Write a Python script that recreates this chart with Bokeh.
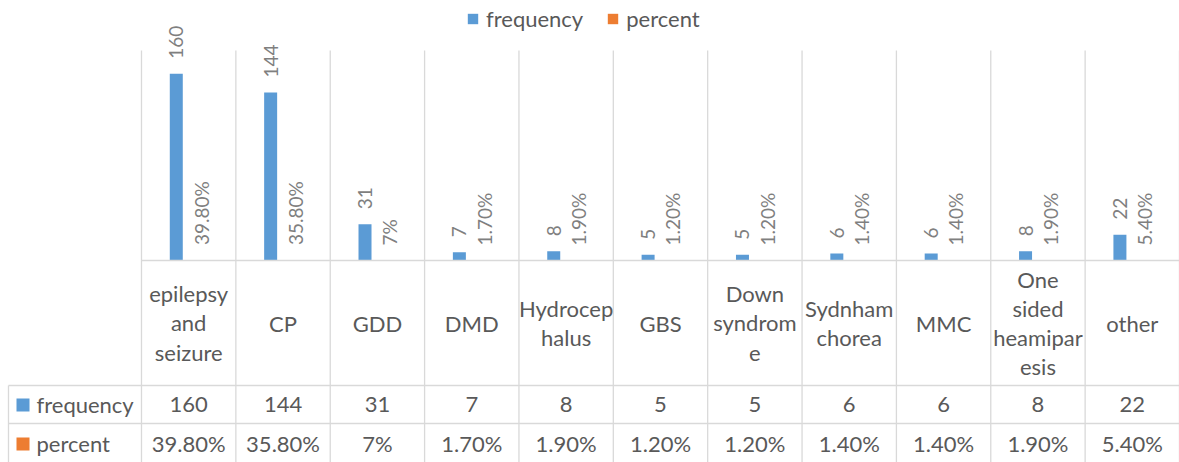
import math

from bokeh.core.properties import value
from bokeh.embed import file_html
from bokeh.models import ColumnDataSource, Legend, LegendItem, Range1d
from bokeh.plotting import figure
from bokeh.resources import INLINE

# ---- data -------------------------------------------------------------
categories = ["epilepsy and seizure", "CP", "GDD", "DMD", "Hydrocephalus", "GBS",
              "Down syndrome", "Sydnham chorea", "MMC", "One sided heamiparesis", "other"]
category_labels = ["epilepsy\nand\nseizure", "CP", "GDD", "DMD", "Hydrocep\nhalus", "GBS",
                   "Down\nsyndrom\ne", "Sydnham\nchorea", "MMC", "One\nsided\nheamipar\nesis", "other"]
frequency = [160, 144, 31, 7, 8, 5, 5, 6, 6, 8, 22]
percent = [0.398, 0.358, 0.07, 0.017, 0.019, 0.012, 0.012, 0.014, 0.014, 0.019, 0.054]
percent_labels = ["39.80%", "35.80%", "7%", "1.70%", "1.90%", "1.20%", "1.20%",
                  "1.40%", "1.40%", "1.90%", "5.40%"]
series_names = ["frequency", "percent"]

# ---- layout / style ---------------------------------------------------
W, H = 1179, 462
PLOT_LEFT = 141          # left edge of the category columns
BASE_Y = 260             # pixel row of the value axis zero line
TOP_Y = 50               # pixel row of the value axis maximum
Y_MAX = 180
COL_W = (W - PLOT_LEFT) / len(categories)
PPU = (BASE_Y - TOP_Y) / Y_MAX

BLUE = "#5B9BD5"
ORANGE = "#ED7D31"
GRID = "#D9D9D9"
TEXT = "#595959"
LABEL = "#7F7F7F"
FONT = value("Lato")
TABLE_SIZE = "22px"
LABEL_SIZE = "19px"


def xd(px):
    return (px - PLOT_LEFT) / COL_W


def yd(py):
    return (BASE_Y - py) / PPU


n = len(categories)
dodge = 12.4 / COL_W
bar_w = 13 / COL_W
centers = [i + 0.5 for i in range(n)]

src = ColumnDataSource(dict(
    x_freq=[c - dodge for c in centers],
    x_pct=[c + dodge for c in centers],
    center=centers,
    frequency=frequency,
    percent=percent,
    freq_text=[str(v) for v in frequency],
    pct_text=percent_labels,
    freq_label_y=[v + 15 / PPU for v in frequency],
    pct_label_y=[v + 15 / PPU for v in percent],
    cat_text=category_labels,
))

p = figure(width=W, height=H, output_backend="svg", toolbar_location=None,
           x_axis_type=None, y_axis_type=None, min_border=0,
           x_range=Range1d(-PLOT_LEFT / COL_W, n), y_range=Range1d(yd(H), yd(0)))
p.grid.visible = False
p.outline_line_color = None
p.background_fill_color = "white"
p.border_fill_color = "white"

# bars
r_freq = p.vbar(x="x_freq", top="frequency", width=bar_w, source=src,
                fill_color=BLUE, line_color=None)
r_pct = p.vbar(x="x_pct", top="percent", width=bar_w, source=src,
               fill_color=ORANGE, line_color=None)

# grid / data-table rules
bounds = list(range(n + 1))
p.segment(x0=bounds, y0=[Y_MAX] * len(bounds), x1=bounds, y1=[yd(H)] * len(bounds),
          line_color=GRID, line_width=1.3)
p.segment(x0=[0, xd(8), xd(8)], y0=[0, yd(385), yd(423)],
          x1=[n, n, n], y1=[0, yd(385), yd(423)], line_color=GRID, line_width=1.3)
p.segment(x0=[xd(8)], y0=[yd(385)], x1=[xd(8)], y1=[yd(H)], line_color=GRID, line_width=1.3)

# rotated value labels
p.text(x="x_freq", y="freq_label_y", text="freq_text", source=src, angle=math.pi / 2,
       text_align="left", text_baseline="middle", text_font=FONT,
       text_font_size=LABEL_SIZE, text_color=LABEL)
p.text(x="x_pct", y="pct_label_y", text="pct_text", source=src, angle=math.pi / 2,
       text_align="left", text_baseline="middle", text_font=FONT,
       text_font_size=LABEL_SIZE, text_color=LABEL)

# category row
p.text(x="center", y=yd(322.5), text="cat_text", source=src, text_align="center",
       text_baseline="middle", text_font=FONT, text_font_size=TABLE_SIZE,
       text_color=TEXT, text_line_height=1.08)

# value rows
p.text(x="center", y=yd(404), text="freq_text", source=src, text_align="center",
       text_baseline="middle", text_font=FONT, text_font_size=TABLE_SIZE, text_color=TEXT)
p.text(x="center", y=yd(442.5), text="pct_text", source=src, text_align="center",
       text_baseline="middle", text_font=FONT, text_font_size=TABLE_SIZE, text_color=TEXT)

# row headers with series keys
p.scatter(x=[xd(22.5), xd(22.5)], y=[yd(404.5), yd(443.5)], marker="square", size=13,
          fill_color=[BLUE, ORANGE], line_color=None)
p.text(x=[xd(36), xd(36)], y=[yd(404), yd(442.5)], text=series_names, text_align="left",
       text_baseline="middle", text_font=FONT, text_font_size=TABLE_SIZE, text_color=TEXT)

# legend
legend = Legend(items=[LegendItem(label=series_names[0], renderers=[r_freq]),
                       LegendItem(label=series_names[1], renderers=[r_pct])],
                orientation="horizontal", location=(466, H - 32),
                glyph_width=13, glyph_height=13, label_standoff=7, spacing=23,
                padding=0, margin=0, border_line_color=None, background_fill_alpha=0,
                label_text_font="Lato", label_text_font_size=TABLE_SIZE,
                label_text_color=TEXT, label_height=13)
p.add_layout(legend)

open("out.html", "w").write(file_html(p, INLINE))
